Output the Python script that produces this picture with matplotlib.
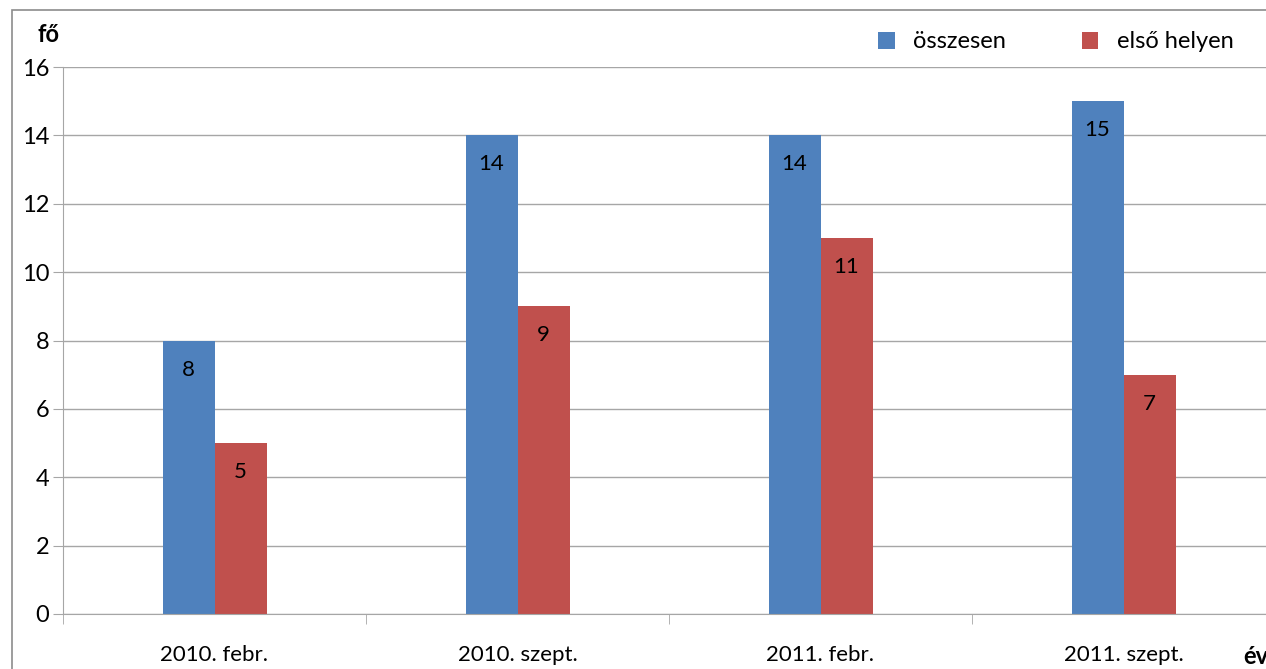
import matplotlib.pyplot as plt
import numpy as np
from matplotlib.patches import Rectangle

periods = ["2010. febr.", "2010. szept.", "2011. febr.", "2011. szept."]
total = [8, 14, 14, 15]
first_place = [5, 9, 11, 7]
series_names = ["összesen", "első helyen"]

BLUE = "#4F81BD"
RED = "#C0504D"
GRID = "#A6A6A6"

plt.rcParams["font.family"] = ["Lato", "DejaVu Sans"]

fig = plt.figure(figsize=(12.66, 6.69), dpi=100)
fig.patches.append(Rectangle((12 / 1266, -0.1), 1.2, 1 - 10 / 669 + 0.1,
                             transform=fig.transFigure, fill=False,
                             edgecolor="#8C8C8C", linewidth=1.2))

ax = fig.add_axes([63 / 1266, 55 / 669, 1212 / 1266, 547 / 669])

x = np.arange(len(periods))
w = 52 / 303
b1 = ax.bar(x - w / 2, total, w, color=BLUE, label=series_names[0])
b2 = ax.bar(x + w / 2, first_place, w, color=RED, label=series_names[1])

for bars, vals in ((b1, total), (b2, first_place)):
    for bar, v in zip(bars, vals):
        ax.text(bar.get_x() + bar.get_width() / 2, v - 0.85, str(v),
                ha="center", va="center", fontsize=16, color="black")

ax.set_xlim(-0.5, 3.5)
ax.set_ylim(0, 16)
ax.set_yticks(range(0, 17, 2))
ax.tick_params(axis="y", labelsize=17, length=7, color=GRID, pad=3)
ax.set_xticks(x)
ax.set_xticklabels(periods, fontsize=16)
ax.set_xticks(np.arange(-0.5, 3.5, 1), minor=True)
ax.tick_params(axis="x", which="major", length=0, pad=22)
ax.tick_params(axis="x", which="minor", length=7, color=GRID)

ax.yaxis.grid(True, color=GRID, linewidth=1)
ax.set_axisbelow(True)
for side in ("top", "right"):
    ax.spines[side].set_visible(False)
ax.spines["left"].set_color(GRID)
ax.spines["bottom"].set_color(GRID)

fig.text(37 / 1266, 1 - 34 / 669, "fő", fontsize=17, fontweight="bold",
         va="center", ha="left")
fig.text(1243 / 1266, 1 - 657 / 669, "év", fontsize=17, fontweight="bold",
         va="center", ha="left")

ax.legend(loc="center left", bbox_to_anchor=(878 / 1266, 1 - 42 / 669),
          bbox_transform=fig.transFigure, ncol=2, frameon=False,
          fontsize=17, handlelength=0.7, handleheight=0.7,
          columnspacing=3.2, handletextpad=0.8, borderpad=0, borderaxespad=0)

fig.savefig("out.png", dpi=100)
